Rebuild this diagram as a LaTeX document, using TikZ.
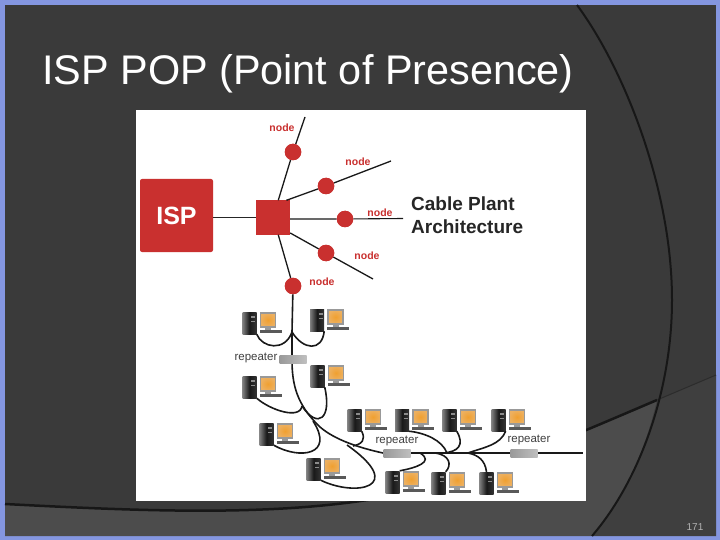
\documentclass[tikz,border=0pt]{standalone}
\usepackage{fontspec}
\setmainfont{Liberation Sans}
\usepackage{xcolor}
\usetikzlibrary{positioning, calc}
\definecolor{slideborder}{HTML}{8496E0}
\definecolor{slidedark}{HTML}{3A3A3A}
\definecolor{slidelight}{HTML}{4C4C4C}
\definecolor{slideright}{HTML}{3F3F3F}
\definecolor{ispred}{HTML}{C9302F}
\definecolor{screenmid}{HTML}{F0A030}
\definecolor{screenedge}{HTML}{EDB060}
\tikzset{
    ispbox/.style={rectangle, rounded corners=2pt, fill=ispred, minimum width=73, minimum height=73, text=white, font=\bfseries\fontsize{25}{25}\selectfont},
    hubbox/.style={rectangle, fill=ispred, minimum width=34, minimum height=34, inner sep=0pt},
    dot/.style={circle, fill=ispred, minimum size=16.5, inner sep=0pt},
    nodelabel/.style={text=ispred, font=\bfseries\fontsize{10.5}{11}\selectfont, inner sep=0pt},
    replabel/.style={text=black!75, font=\fontsize{11.5}{12}\selectfont, inner sep=0pt},
    repbox/.style={rectangle, left color=black!40, right color=black!25, minimum width=27, minimum height=8, inner sep=0pt},
    wire/.style={line width=1.6pt, black!90},
    arcline/.style={line width=2pt, black!60!slidedark},
    tower/.style={rectangle, left color=black!50, right color=black!80, middle color=black!90, minimum width=14, minimum height=22, inner sep=0pt},
    screen/.style={rectangle, draw=black!40, line width=1.5pt, inner color=screenmid, outer color=screenedge, minimum width=15, minimum height=14, inner sep=0pt},
    keys/.style={rectangle, fill=black!65, minimum width=22, minimum height=3, inner sep=0pt},
    pics/pc/.style={code={
        \node[tower] (-tower) at (-12.5,0) {};
        \fill[black!45] (-11,-7) rectangle (-7,-5);
        \fill[black!45] (-11,-2) rectangle (-7,-1);
        \node[screen] (-screen) at (6,-3) {};
        \fill[black!40] (3,5) rectangle (9,7.5);
        \node[keys] (-keys) at (8.5,8.5) {};
    }}
}
\begin{document}
\begin{tikzpicture}[x=1pt, y=-1pt]
    \useasboundingbox (0,0) rectangle (720,540);
    \fill[slideborder] (0,0) rectangle (720,540);
    \fill[slidedark] (5,5) rectangle (716,536);
    \fill[slideright] (657,400) .. controls (645,450) and (625,497) .. (592,536) -- (716,536) -- (716,375) -- cycle;
    \fill[slidelight] (5,504) .. controls (160,512) and (300,518) .. (420,490) .. controls (480,475) and (540,450) .. (657,400)
        .. controls (645,450) and (625,497) .. (592,536) -- (5,536) -- cycle;
    \draw[line width=2.5pt, black!60!slidedark] (5,504) .. controls (160,512) and (300,518) .. (420,490) .. controls (480,475) and (540,450) .. (657,400);
    \draw[line width=1pt, black!25!slidedark] (657,400) -- (716,375);
    \draw[arcline] (577,5) .. controls (625,70) and (672,190) .. (672,300) .. controls (672,390) and (640,480) .. (592,536);

    \node[anchor=base west, inner sep=0pt, text=white, font=\fontsize{41.4}{42}\selectfont] (title) at (42,85) {ISP POP (Point of Presence)};
    \node[text=black!30, font=\fontsize{10}{10}\selectfont, inner sep=0pt] (page) at (695,527) {171};

    \fill[white] (136,110) rectangle (586,501);

    \node[ispbox] (isp) at (176.5,215.5) {ISP};
    \node[hubbox] (hub) at (273,217.5) {};
    \node[dot] (n1) at (293,152) {};
    \node[dot] (n2) at (326,186) {};
    \node[dot] (n3) at (345,219) {};
    \node[dot] (n4) at (326,253) {};
    \node[dot] (n5) at (293,286) {};
    \coordinate (e1) at (305,117);
    \coordinate (e2) at (391,161);
    \coordinate (e3) at (403,218.5);
    \coordinate (e4) at (373,279);

    \node[nodelabel] (l1) at (282,128) {node};
    \node[nodelabel] (l2) at (358,162) {node};
    \node[nodelabel] (l3) at (380,213) {node};
    \node[nodelabel] (l4) at (367,256) {node};
    \node[nodelabel] (l5) at (322,282) {node};
    \node[anchor=north west, inner sep=0pt, align=left, text=black!85, font=\bfseries\fontsize{19}{23}\selectfont] (cable) at (411,197) {Cable Plant\\Architecture};

    \foreach \pcname/\px/\py in {c1/262/323, c2/329.5/320, c3/262/387, c4/330/376, c5/279/434, c6/326/469, c7/367/420,
        c8/414.5/420, c9/462/420, c10/511/420, c11/405/482, c12/451/483, c13/499/483}
        \pic (\pcname) at (\px,\py) {pc};

    \coordinate (j1) at (292,332);
    \coordinate (j2) at (302,406);
    \coordinate (j3) at (313,421);
    \coordinate (j4) at (347,445);
    \coordinate (j5) at (353,446);
    \coordinate (j6) at (447,453);
    \coordinate (j7) at (443,453);
    \coordinate (j8) at (468,453);
    \coordinate (j9) at (420,453);
    \coordinate (j10) at (435,453);
    \coordinate (busstart) at (383,453);
    \coordinate (busend) at (583,453);

    \draw[line width=1.5pt, black!85] (isp.east |- hub) -- (hub);
    \draw[line width=1.3pt, black!90] (hub.73) -- (n1) -- (e1);
    \draw[line width=1.3pt, black!90] (hub.52) -- (n2) -- (e2);
    \draw[line width=1.1pt, black!90] (hub.east |- n3) -- (n3) -- (e3);
    \draw[line width=1.3pt, black!90] (hub.-42) -- (n4) -- (e4);
    \draw[line width=1.3pt, black!90] (hub.-73) -- (n5);
    \foreach \dotname in {n1, n2, n3, n4, n5}
        \node[dot] at (\dotname) {};

    \draw[wire] (n5) -- (j1) -- (292,360) .. controls (292,385) and (297,405) .. (320,427) .. controls (335,440) and (360,448) .. (busstart);
    \draw[line width=2pt, black!90] (busstart) -- (busend);
    \draw[wire] (c1-tower.south east) .. controls (262,348) and (285,352) .. (j1);
    \draw[wire] (c2-tower.south east) .. controls (322,352) and (303,350) .. (j1);
    \draw[wire] (c3-tower.south east) .. controls (270,410) and (300,420) .. (j2);
    \draw[wire] (c4-tower.south east) .. controls (332,418) and (318,430) .. (j2);
    \draw[wire] (c5-tower.south east) .. controls (300,460) and (335,455) .. (j3);
    \draw[wire] (c6-tower.south east) .. controls (355,497) and (408,488) .. (j4);
    \draw[wire] (c7-tower.south east) .. controls (366,440) and (362,444) .. (j5);
    \draw[wire] (c8-tower.south east) .. controls (425,433) and (442,440) .. (j6);
    \draw[wire] (c9-tower.south east) .. controls (465,445) and (458,452) .. (j7);
    \draw[wire] (c10-tower.south east) .. controls (500,445) and (485,447) .. (j8);
    \draw[wire] (c11-tower.north east) .. controls (415,468) and (435,462) .. (j9);
    \draw[wire] (c12-tower.north east) .. controls (452,465) and (450,455) .. (j10);
    \draw[wire] (c13-tower.north) .. controls (485,460) and (478,455) .. (j8);

    \node[repbox] (r1) at (293,359) {};
    \node[repbox] (r2) at (397,453) {};
    \node[repbox] (r3) at (524,453) {};
    \node[replabel] (rl1) at (256,358) {repeater};
    \node[replabel] (rl2) at (397,441) {repeater};
    \node[replabel] (rl3) at (529,440) {repeater};
\end{tikzpicture}
\end{document}
